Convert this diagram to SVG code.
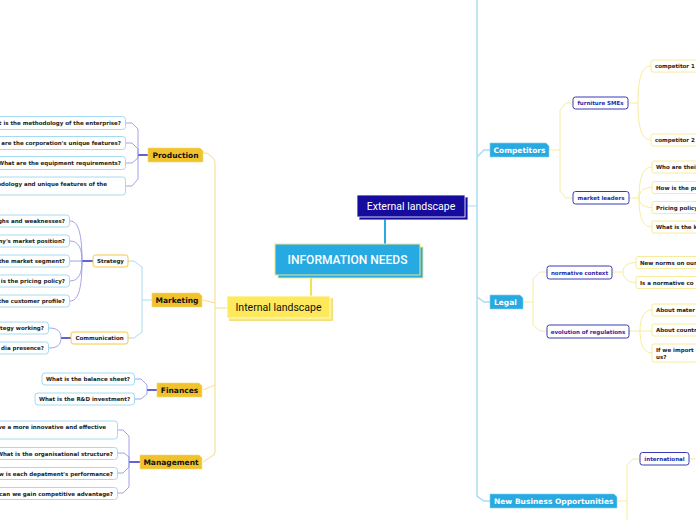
<svg xmlns="http://www.w3.org/2000/svg" width="696" height="520" viewBox="0 0 696 520">
<style>
.leafL{fill:#fff;stroke:#a6daf2;stroke-width:1}
.leafR{fill:#fff;stroke:#f7ec9c;stroke-width:1}
.lt{font-family:"DejaVu Sans",Verdana,sans-serif;font-weight:bold;font-size:5.5px;fill:#222}
.le{text-anchor:end}
.gold{fill:#f0c22e;stroke:#f7d870;stroke-width:0.6}
.gt{font-family:"DejaVu Sans",Verdana,sans-serif;font-weight:bold;font-size:7.5px;fill:#111}
.blue{fill:#27aae1;stroke:#7fd0f0;stroke-width:0.6}
.bt{font-family:"DejaVu Sans",Verdana,sans-serif;font-weight:bold;font-size:7.5px;fill:#fff}
.subY{fill:#fff;stroke:#f5c740;stroke-width:1}
.subB{fill:#fff;stroke:#3a3ab8;stroke-width:1}
.st{font-family:"DejaVu Sans",Verdana,sans-serif;font-weight:bold;font-size:5.5px;fill:#222}
.sbt{font-family:"DejaVu Sans",Verdana,sans-serif;font-weight:bold;font-size:5.5px;fill:#2a2aa8}
.thin{fill:none;stroke:#8c8ce4;stroke-width:0.8}
.thick{fill:none;stroke:#3a3ac8;stroke-width:1.6}
.ytr{fill:none;stroke:#f8dc85;stroke-width:1}
.ltb{fill:none;stroke:#a9dcf3;stroke-width:1}
.btr{fill:none;stroke:#a9dcf3;stroke-width:1.5}
.yR{fill:none;stroke:#f7ec9c;stroke-width:1}
</style>
<rect width="696" height="520" fill="#fff"/>
<g id="connectors">
  <line x1="311" y1="275" x2="311" y2="296" stroke="#f5e050" stroke-width="2"/>
  <line x1="385" y1="218" x2="385" y2="244" stroke="#29abe2" stroke-width="2"/>
  <path class="ytr" d="M227,308 H215"/>
  <path class="ytr" d="M203,153 H207 L213,158 Q215,160 215,163 V452 Q215,455 212,456 L203,462"/>
  <path class="ytr" d="M215,303 L203,300"/>
  <path class="ytr" d="M215,385 L203,390"/>
  <path class="thick" d="M148,155 H138"/>
  <path class="thin" d="M138,155 V129 L132,123 H126"/>
  <path class="thin" d="M138,155 V149 L132,143 H126"/>
  <path class="thin" d="M138,155 V158 L132,163 H126"/>
  <path class="thin" d="M138,155 V179 L132,186 H126"/>
  <path class="ltb" d="M152,300 H142"/>
  <path class="ltb" d="M128,261 H134 L142,267 V332 L134,338 H128"/>
  <path class="thick" d="M93,261 H82"/>
  <path class="thin" d="M82,261 C82,236 79,221 70,221"/>
  <path class="thin" d="M82,261 C82,249 79,241 70,241"/>
  <path class="thin" d="M82,261 H70"/>
  <path class="thin" d="M82,261 C82,273 79,281 70,281"/>
  <path class="thin" d="M82,261 C82,286 79,301 70,301"/>
  <path class="thick" d="M71,338 H61"/>
  <path class="thin" d="M61,338 C61,331 57,328 49,328"/>
  <path class="thin" d="M61,338 C61,345 57,348 49,348"/>
  <path class="thick" d="M157,390 H147"/>
  <path class="thin" d="M147,390 V385 L141,379 H135"/>
  <path class="thin" d="M147,390 V394 L141,399 H135"/>
  <path class="thick" d="M140,462 H129"/>
  <path class="thin" d="M129,462 V436 L123,430 H118"/>
  <path class="thin" d="M129,462 V457 L124,453 H118"/>
  <path class="thin" d="M129,462 V467 L123,473 H118"/>
  <path class="thin" d="M129,462 V487 L123,493 H118"/>
  <path class="ltb" d="M465,206 H477"/>
  <path class="btr" d="M477,0 V496 L484,501 H490"/>
  <path class="btr" d="M477,157 L484,150 H490"/>
  <path class="btr" d="M477,297 L484,302 H490"/>
  <path class="yR" d="M549,150 H560"/>
  <path class="yR" d="M573,103 H566 L560,110 V191 L566,198 H573"/>
  <path class="yR" d="M628,103 H638"/>
  <path class="yR" d="M651,66 C641,66 638,80 638,103 C638,126 641,140 651,140"/>
  <path class="yR" d="M629,198 H639"/>
  <path class="yR" d="M652,167 C642,167 639,180 639,198 C639,216 642,227 652,227"/>
  <path class="yR" d="M639,198 C639,192 643,187.5 652,187.5"/>
  <path class="yR" d="M639,198 C639,203 643,207.5 652,207.5"/>
  <path class="yR" d="M523,302 H533"/>
  <path class="yR" d="M547,272 H540 L533,279 V325 L540,331 H547"/>
  <path class="yR" d="M612,272 H623"/>
  <path class="yR" d="M636,262.5 C628,262.5 623,266 623,272 C623,278 628,282.5 636,282.5"/>
  <path class="yR" d="M629,331 H640"/>
  <path class="yR" d="M652,310 C644,310 640,318 640,331 C640,345 644,353 652,353"/>
  <path class="yR" d="M640,331 H652"/>
  <path class="yR" d="M617,501 H627"/>
  <path class="yR" d="M640,459 H633 L627,465 V520"/>
  <path class="yR" d="M689,459 H696"/>
</g>
<g id="center">
  <rect x="278" y="247" width="145" height="31" fill="#27aae1" stroke="#f3e58a" stroke-width="1"/>
  <rect x="275" y="244" width="145" height="31" fill="#27aae1" stroke="#f3e58a" stroke-width="1"/>
  <text x="347.5" y="263.5" text-anchor="middle" font-family="Roboto,sans-serif" font-weight="500" font-size="12" fill="#fff">INFORMATION NEEDS</text>
</g>
<g id="external">
  <rect x="359.5" y="197.5" width="108" height="22" fill="#150c9e" stroke="#6a6ad0" stroke-width="0.6"/>
  <rect x="357" y="195" width="108" height="22" fill="#150c9e" stroke="#fff" stroke-width="0.8"/>
  <text x="411" y="209.8" text-anchor="middle" font-family="Roboto,sans-serif" font-size="10.5" fill="#fff">External landscape</text>
</g>
<g id="internal">
  <rect x="229.5" y="298.5" width="103" height="22" fill="#fde95b" stroke="#f0dc70" stroke-width="0.8"/>
  <rect x="227" y="296" width="103" height="22" fill="#fde95b" stroke="#fff" stroke-width="0.8"/>
  <text x="278.5" y="310.8" text-anchor="middle" font-family="Roboto,sans-serif" font-size="10.5" fill="#111">Internal landscape</text>
</g>
<g id="production">
  <path class="gold" d="M148,148 H200 L203,151 V162 H148 Z"/>
  <text class="gt" x="175.5" y="157.7" text-anchor="middle">Production</text>
</g>
<g id="prod-leaves">
  <rect class="leafL" x="-10" y="116.5" width="135.5" height="13" rx="3"/>
  <text class="lt le" x="121" y="125">t is the methodology of the enterprise?</text>
  <rect class="leafL" x="-10" y="136.5" width="135.5" height="13" rx="3"/>
  <text class="lt le" x="121" y="145">are the corporation's unique features?</text>
  <rect class="leafL" x="-10" y="156.5" width="135.5" height="13" rx="3"/>
  <text class="lt le" x="121" y="165">What are the equipment requirements?</text>
  <rect class="leafL" x="-10" y="177" width="135.5" height="18" rx="3"/>
  <text class="lt le" x="107" y="185.5">odology and unique features of the</text>
</g>
<g id="marketing">
  <path class="gold" d="M152,293 H199 L202,296 V307 H152 Z"/>
  <text class="gt" x="177" y="302.7" text-anchor="middle">Marketing</text>
</g>
<g id="strategy">
  <rect class="subY" x="93" y="255" width="35" height="12" rx="2.5"/>
  <text class="st" x="110.5" y="263" text-anchor="middle">Strategy</text>
</g>
<g id="communication">
  <rect class="subY" x="71" y="332" width="57" height="12" rx="2.5"/>
  <text class="st" x="99.5" y="340" text-anchor="middle">Communication</text>
</g>
<g id="strategy-leaves">
  <rect class="leafL" x="-10" y="215" width="79.5" height="12" rx="3"/>
  <text class="lt le" x="65" y="223">ghs and weaknesses?</text>
  <rect class="leafL" x="-10" y="235" width="79.5" height="12" rx="3"/>
  <text class="lt le" x="65" y="243">ny's market position?</text>
  <rect class="leafL" x="-10" y="255" width="79.5" height="12" rx="3"/>
  <text class="lt le" x="65" y="263">the market segment?</text>
  <rect class="leafL" x="-10" y="275" width="79.5" height="12" rx="3"/>
  <text class="lt le" x="65" y="283">is the pricing policy?</text>
  <rect class="leafL" x="-10" y="295" width="79.5" height="12" rx="3"/>
  <text class="lt le" x="65" y="303">the customer profile?</text>
</g>
<g id="comm-leaves">
  <rect class="leafL" x="-10" y="322" width="58.5" height="12" rx="3"/>
  <text class="lt le" x="44" y="330">tegy working?</text>
  <rect class="leafL" x="-10" y="342" width="58.5" height="12" rx="3"/>
  <text class="lt le" x="44" y="350">dia presence?</text>
</g>
<g id="finances">
  <path class="gold" d="M157,383 H199 L202,386 V397 H157 Z"/>
  <text class="gt" x="179.5" y="392.7" text-anchor="middle">Finances</text>
</g>
<g id="fin-leaves">
  <rect class="leafL" x="42" y="373" width="92.5" height="12" rx="3"/>
  <text class="lt" x="88" y="381" text-anchor="middle">What is the balance sheet?</text>
  <rect class="leafL" x="35" y="393" width="99.5" height="12" rx="3"/>
  <text class="lt" x="84.5" y="401" text-anchor="middle">What is the R&amp;D investment?</text>
</g>
<g id="management">
  <path class="gold" d="M140,455 H199 L202,458 V469 H140 Z"/>
  <text class="gt" x="171" y="464.7" text-anchor="middle">Management</text>
</g>
<g id="mgmt-leaves">
  <rect class="leafL" x="-10" y="421" width="127.5" height="18" rx="3"/>
  <text class="lt le" x="106" y="429">ve a more innovative and effective</text>
  <rect class="leafL" x="-10" y="447.5" width="127.5" height="12" rx="3"/>
  <text class="lt le" x="113" y="455.5">What is the organisational structure?</text>
  <rect class="leafL" x="-10" y="467.5" width="127.5" height="12" rx="3"/>
  <text class="lt le" x="113" y="475.5">w is each depatment's performance?</text>
  <rect class="leafL" x="-10" y="487.5" width="127.5" height="12" rx="3"/>
  <text class="lt le" x="113" y="495.5">can we gain competitive advantage?</text>
</g>
<g id="competitors">
  <path class="blue" d="M490,143 H546 L549,146 V157 H490 Z"/>
  <text class="bt" x="519.5" y="152.7" text-anchor="middle">Competitors</text>
</g>
<g id="furniture-smes">
  <rect class="subB" x="573" y="97" width="55" height="12" rx="2.5"/>
  <text class="sbt" x="600.5" y="105" text-anchor="middle">furniture SMEs</text>
</g>
<g id="market-leaders">
  <rect class="subB" x="573" y="191.5" width="56" height="12.5" rx="2.5"/>
  <text class="sbt" x="601" y="199.7" text-anchor="middle">market leaders</text>
</g>
<g id="competitor-leaves">
  <rect class="leafR" x="651" y="60" width="60" height="12" rx="2"/>
  <text class="lt" x="655" y="68">competitor 1</text>
  <rect class="leafR" x="651" y="134" width="60" height="12" rx="2"/>
  <text class="lt" x="655" y="142">competitor 2</text>
</g>
<g id="leader-leaves">
  <rect class="leafR" x="652" y="161" width="60" height="12" rx="2"/>
  <text class="lt" x="656" y="169">Who are thei</text>
  <rect class="leafR" x="652" y="181.5" width="60" height="12" rx="2"/>
  <text class="lt" x="656" y="189.5">How is the pu</text>
  <rect class="leafR" x="652" y="201.5" width="60" height="12" rx="2"/>
  <text class="lt" x="656" y="209.5">Pricing policy</text>
  <rect class="leafR" x="652" y="221" width="60" height="12" rx="2"/>
  <text class="lt" x="656" y="229">What is the k</text>
</g>
<g id="legal">
  <path class="blue" d="M490,295 H520 L523,298 V309 H490 Z"/>
  <text class="bt" x="494" y="304.7">Legal</text>
</g>
<g id="normative-context">
  <rect class="subB" x="547" y="266" width="65" height="13" rx="2.5"/>
  <text class="sbt" x="579.5" y="274.5" text-anchor="middle">normative context</text>
</g>
<g id="evolution-regulations">
  <rect class="subB" x="547" y="325" width="82" height="13" rx="2.5"/>
  <text class="sbt" x="588" y="333.5" text-anchor="middle">evolution of regulations</text>
</g>
<g id="normative-leaves">
  <rect class="leafR" x="636" y="256.5" width="70" height="12" rx="2"/>
  <text class="lt" x="640" y="264.5">New norms on our</text>
  <rect class="leafR" x="636" y="276.5" width="70" height="12" rx="2"/>
  <text class="lt" x="640" y="284.5">Is a normative co</text>
</g>
<g id="regulation-leaves">
  <rect class="leafR" x="652" y="304" width="60" height="12" rx="2"/>
  <text class="lt" x="656" y="312">About mater</text>
  <rect class="leafR" x="652" y="324" width="60" height="12" rx="2"/>
  <text class="lt" x="656" y="332">About countr</text>
  <rect class="leafR" x="652" y="344" width="60" height="18" rx="2"/>
  <text class="lt" x="656" y="352">If we import</text>
  <text class="lt" x="656" y="359">us?</text>
</g>
<g id="new-business">
  <path class="blue" d="M490,494 H614 L617,497 V508 H490 Z"/>
  <text class="bt" x="494" y="503.7">New Business Opportunities</text>
</g>
<g id="international">
  <rect class="subB" x="640" y="452.5" width="49" height="12.5" rx="2.5"/>
  <text class="sbt" x="664.5" y="461" text-anchor="middle">international</text>
</g>
</svg>
